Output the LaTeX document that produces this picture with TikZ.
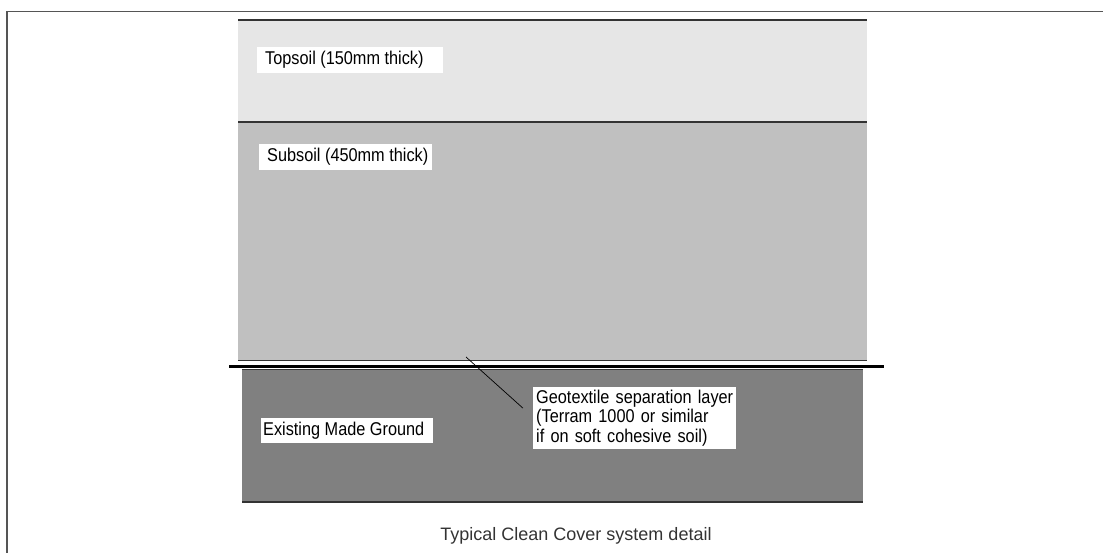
\documentclass[tikz,border=0pt]{standalone}
\usepackage{fontspec}
\newfontfamily\lblfont[FakeStretch=0.88]{Liberation Sans}
\newfontfamily\capfont{Liberation Sans}
\definecolor{topsoil}{HTML}{E6E6E6}
\definecolor{subsoil}{HTML}{C0C0C0}
\definecolor{madeground}{HTML}{808080}
\definecolor{framegrey}{HTML}{555555}
\begin{document}
\begin{tikzpicture}[x=1pt,y=-1pt,
  lbl/.style={fill=white,anchor=north west,inner ysep=0pt,
    font={\lblfont\fontsize{18.5}{19.5}\selectfont}},
  edge/.style={draw=black!80,line width=1.2pt}]
  \useasboundingbox (0,0) rectangle (1103,553);
  \draw[framegrey,line width=1.5pt] (1103,11.5) -- (7,11.5) -- (7,553);
  \fill[topsoil] (238,20) rectangle (867,122);
  \fill[subsoil] (238,122) rectangle (867,360.5);
  \fill[madeground] (242,369.5) rectangle (863,502);
  \draw[edge] (238,20) -- (867,20);
  \draw[edge] (238,122) -- (867,122);
  \draw[edge] (238,360.5) -- (867,360.5);
  \draw[edge,line width=0.8pt] (242,369.5) -- (863,369.5);
  \draw[edge] (242,502) -- (863,502);
  \node[lbl,inner xsep=8pt,minimum height=26pt] (top) at (257,47) {\makebox[170pt][l]{Topsoil (150mm thick)}};
  \node[lbl,inner xsep=8pt,minimum height=26pt] (sub) at (259,144) {\makebox[157pt][l]{Subsoil (450mm thick)}};
  \node[lbl,inner xsep=2pt,minimum height=25pt] (made) at (261,418) {\makebox[168pt][l]{Existing Made Ground}};
  \node[lbl,inner xsep=3pt,text width=197pt,align=left,minimum height=62pt] (geo) at (533,387)
    {Geotextile separation layer\\(Terram 1000 or similar\\if on soft cohesive soil)};
  \coordinate (geotip) at (466,357);
  \draw[black,line width=0.7pt] ([shift={(-10pt,10pt)}]geo.west) -- (geotip);
  \draw[black,line width=3pt] (229,366) -- (884,366);
  \node[font={\capfont\fontsize{18}{21}\selectfont},text=black!80,anchor=base] (caption) at (576,540)
    {Typical Clean Cover system detail};
\end{tikzpicture}
\end{document}
